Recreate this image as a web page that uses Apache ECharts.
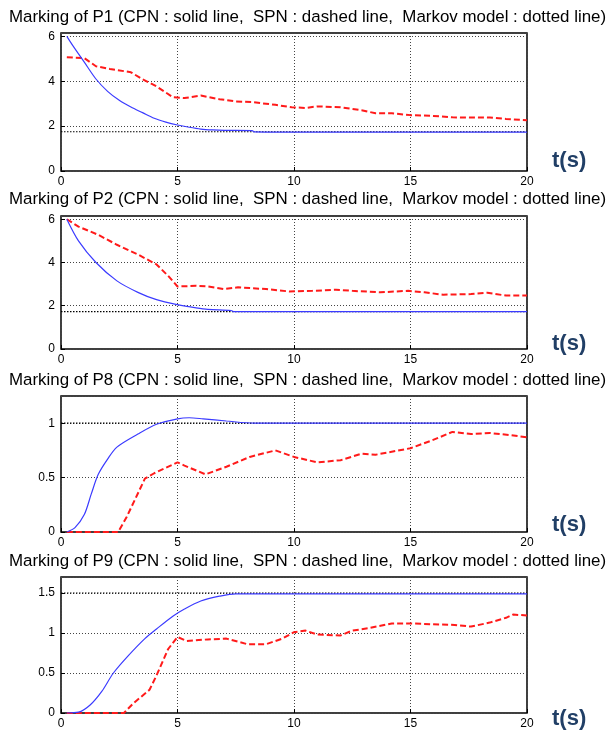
<!DOCTYPE html>
<html>
<head>
<meta charset="utf-8" />
<title>Marking of places</title>
<script type="text/javascript" src="https://cdn.jsdelivr.net/npm/echarts@6/dist/echarts.min.js"></script>
<style>
  html, body { margin: 0; padding: 0; background: #fff; }
  #chart { width: 612px; height: 738px; }
</style>
</head>
<body>
<div id="chart"></div>
<script type="text/javascript">
// places shown, one panel each
var places = ['P1', 'P2', 'P8', 'P9'];

// CPN (solid blue) : [t, marking]
var cpnP1 = [[0.25,6.0],[0.5,5.6],[1,4.85],[1.5,4.1],[2,3.55],[2.5,3.15],[3,2.85],[3.5,2.6],[4,2.35],[4.5,2.18],[5,2.05],[5.5,1.95],[6,1.87],[6.5,1.83],[7,1.81],[8.2,1.8],[8.3,1.74],[10,1.73],[20,1.73]];
var cpnP2 = [[0.25,6.0],[0.75,5.0],[1.5,4.0],[2.4,3.15],[3.3,2.62],[4.1,2.28],[5,2.05],[5.8,1.9],[6.3,1.83],[7.3,1.78],[7.4,1.73],[20,1.73]];
var cpnP8 = [[0.25,0],[0.6,0.04],[1,0.16],[1.3,0.35],[1.6,0.53],[2,0.67],[2.4,0.78],[3.3,0.9],[4.1,0.99],[5,1.04],[5.5,1.05],[6.1,1.04],[7.1,1.02],[8.3,1.0],[20,1.0]];
var cpnP9 = [[0.25,0],[0.75,0.01],[1.25,0.1],[1.75,0.27],[2.25,0.5],[2.9,0.72],[3.6,0.93],[4.1,1.05],[4.8,1.21],[5.3,1.3],[6,1.4],[6.8,1.46],[7.5,1.49],[20,1.49]];

// SPN (dashed red) : [t, marking]
var spnP1 = [[0.25,5.07],[1,5.03],[1.5,4.67],[2.1,4.55],[3,4.4],[3.5,4.09],[4.1,3.77],[4.8,3.29],[5.3,3.25],[6,3.36],[6.8,3.2],[7.5,3.1],[8.2,3.07],[9.2,2.95],[9.9,2.84],[10.5,2.81],[11,2.88],[12,2.84],[12.9,2.71],[13.5,2.57],[14.2,2.57],[15,2.49],[15.9,2.46],[16.8,2.39],[18.4,2.38],[19.1,2.32],[20,2.26]];
var spnP2 = [[0.25,6.0],[0.75,5.66],[1.6,5.28],[2.4,4.82],[3.3,4.37],[4.1,3.91],[4.6,3.38],[5,2.89],[5.8,2.92],[6.3,2.89],[7,2.77],[7.6,2.85],[8.8,2.77],[9.8,2.66],[10.8,2.69],[11.8,2.74],[12.5,2.69],[13.7,2.62],[14.9,2.69],[15.6,2.62],[16.4,2.51],[17.6,2.54],[18.3,2.6],[19.1,2.47],[20,2.47]];
var spnP8 = [[0.25,0],[2.45,0],[2.8,0.13],[3.2,0.31],[3.6,0.49],[4,0.54],[5,0.64],[5.3,0.61],[6.2,0.53],[7.1,0.6],[8.1,0.69],[9.2,0.75],[10,0.69],[11,0.64],[12,0.66],[12.9,0.72],[13.5,0.71],[15,0.77],[15.9,0.84],[16.8,0.92],[17.6,0.9],[18.4,0.91],[19.3,0.89],[20,0.87]];
var spnP9 = [[0.25,0],[2.7,0],[3.1,0.12],[3.8,0.29],[4.1,0.47],[4.6,0.8],[5,0.95],[5.4,0.9],[6.3,0.92],[7.1,0.93],[8,0.86],[8.8,0.86],[9.5,0.93],[10,1.01],[10.5,1.03],[11,0.98],[12,0.97],[12.5,1.03],[13.2,1.06],[14.2,1.12],[15,1.12],[15.9,1.11],[16.9,1.1],[17.6,1.08],[18.4,1.13],[19.1,1.19],[19.4,1.23],[20,1.22]];

// Markov model (dotted black) steady values
var markov = [1.75, 1.73, 1.0, 1.5];

// axis ranges
var xTicks = [0, 20, 5];
var yMax = [6.15, 6.15, 1.25, 1.7];
var yStep = [2, 2, 0.5, 0.5];

var cpn = [cpnP1, cpnP2, cpnP8, cpnP9];
var spn = [spnP1, spnP2, spnP8, spnP9];

// layout of the four panels (top, height in px)
var panelTop = [33, 216, 396, 577];
var panelH = [138, 133, 136, 136];
var titleTop = [9, 191, 372, 553];
var tsTop = [145, 328, 509, 703];

var myChart = echarts.init(document.getElementById('chart'), null, { renderer: 'canvas' });

var grids = [], xAxes = [], yAxes = [], series = [], titles = [];
for (var i = 0; i < 4; i++) {
    grids.push({
        left: 61, width: 466, top: panelTop[i], height: panelH[i],
        show: true, borderColor: '#000', borderWidth: 1.5, backgroundColor: '#fff'
    });
    xAxes.push({
        gridIndex: i, type: 'value', min: xTicks[0], max: xTicks[1], interval: xTicks[2],
        axisLine: { show: false },
        axisTick: { inside: true, length: 4, lineStyle: { color: '#000' } },
        axisLabel: { color: '#000', fontSize: 12, margin: 5, fontFamily: 'Liberation Sans' },
        splitLine: { show: true, lineStyle: { color: '#444', type: [1, 2], width: 1 } }
    });
    yAxes.push({
        gridIndex: i, type: 'value', min: 0, max: yMax[i], interval: yStep[i],
        axisLine: { show: false },
        axisTick: { show: true, inside: true, length: 4, lineStyle: { color: '#000' } },
        axisLabel: { color: '#000', fontSize: 12, margin: 6, showMaxLabel: false, fontFamily: 'Liberation Sans' },
        splitLine: { show: true, lineStyle: { color: '#444', type: [1, 2], width: 1 } }
    });
    series.push({
        type: 'line', xAxisIndex: i, yAxisIndex: i, data: [[0, markov[i]], [20, markov[i]]],
        showSymbol: false, lineStyle: { color: '#000', width: 1.2, type: [1.5, 1.5] }, z: 3
    });
    series.push({
        type: 'line', xAxisIndex: i, yAxisIndex: i, data: spn[i],
        showSymbol: false, lineStyle: { color: '#ff1a1a', width: 2, type: [6, 3] }, z: 4
    });
    series.push({
        type: 'line', xAxisIndex: i, yAxisIndex: i, data: cpn[i],
        showSymbol: false, smooth: 0.3, lineStyle: { color: '#3b3bff', width: 1.2 }, z: 5
    });
    titles.push({
        text: 'Marking of ' + places[i] + ' (CPN : solid line,  SPN : dashed line,  Markov model : dotted line)',
        left: 9, top: titleTop[i], padding: 0,
        textStyle: { fontSize: 16.9, fontWeight: 'normal', color: '#000', fontFamily: 'Liberation Sans' }
    });
    titles.push({
        text: 't(s)', left: 547, top: tsTop[i],
        textStyle: { fontSize: 22, fontWeight: 'bold', color: '#213f66', fontFamily: 'Liberation Sans' }
    });
}

var option = {
    animation: false,
    title: titles,
    grid: grids,
    xAxis: xAxes,
    yAxis: yAxes,
    series: series
};
myChart.setOption(option);
</script>
</body>
</html>
